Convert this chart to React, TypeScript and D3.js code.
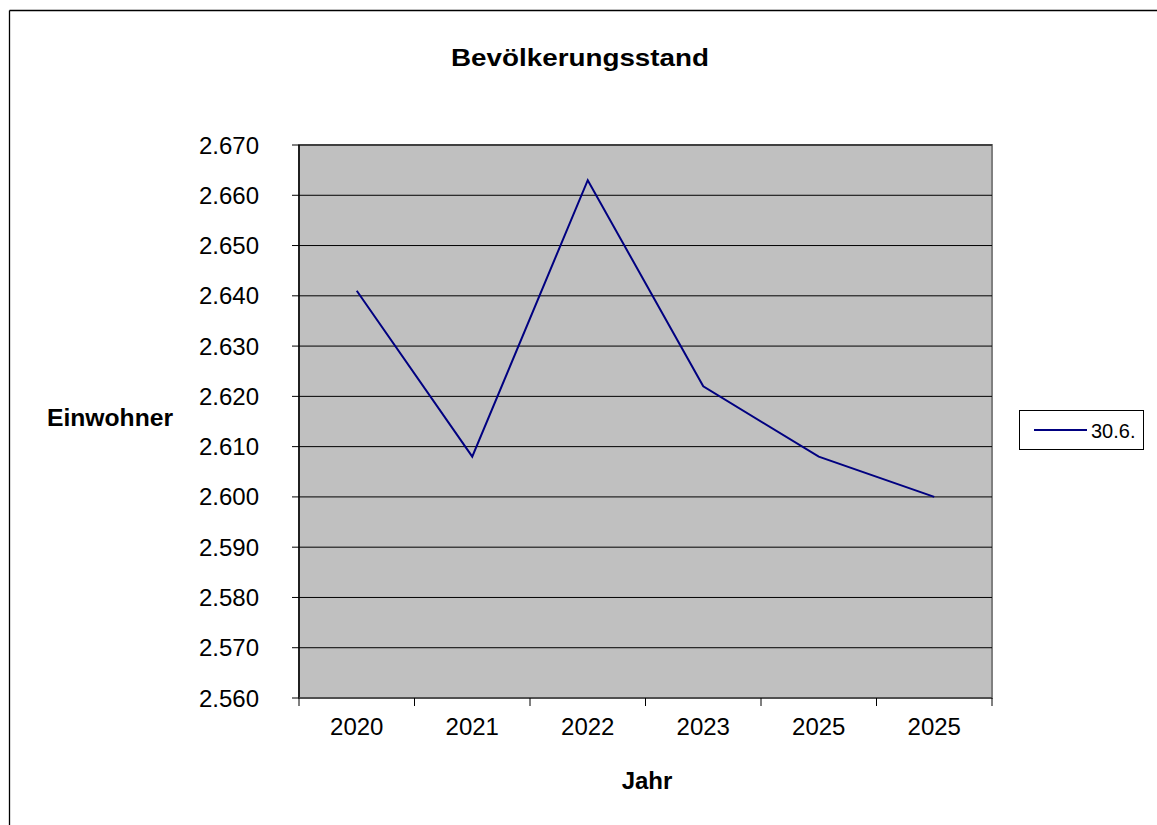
import React from "react";
import * as d3 from "d3";

const categories = ["2020", "2021", "2022", "2023", "2025", "2025"];
const values = [2641, 2608, 2663, 2622, 2608, 2600];
const yTicks = [2560, 2570, 2580, 2590, 2600, 2610, 2620, 2630, 2640, 2650, 2660, 2670];
const seriesName = "30.6.";
const title = "Bevölkerungsstand";
const yTitle = "Einwohner";
const xTitle = "Jahr";

export default function App() {
  const W = 1157, H = 825;
  const L = 299, R = 992, T = 145, B = 698;
  const x = d3.scaleBand<number>().domain(categories.map((_, i) => i)).range([L, R]).padding(0);
  const y = d3.scaleLinear().domain([2560, 2670]).range([B, T]);
  const fmt = (v: number) => d3.format(".3f")(v / 1000);
  const line = d3.line<number>().x((_, i) => (x(i) as number) + x.bandwidth() / 2).y((d) => y(d));
  const font = "Liberation Sans, Arial, sans-serif";
  const bounds = categories.map((_, i) => x(i) as number).concat([R]);
  return (
    <svg width={W} height={H} style={{ position: "absolute", left: 0, top: 0, fontFamily: font }}>
      <rect x={0} y={0} width={W} height={H} fill="#fff" />
      <line x1={9.5} y1={10.5} x2={W} y2={10.5} stroke="#000" strokeWidth={1.3} />
      <line x1={9.5} y1={10.5} x2={9.5} y2={H} stroke="#000" strokeWidth={1.3} />
      <text x={451} y={66} fontSize={24} fontWeight="bold" textLength={258} lengthAdjust="spacingAndGlyphs">{title}</text>
      <rect x={L} y={T} width={R - L} height={B - T} fill="#C0C0C0" stroke="#808080" strokeWidth={2} />
      {yTicks.slice(1).map((t) => (
        <line key={"g" + t} x1={L} x2={R} y1={y(t)} y2={y(t)} stroke="#000" strokeWidth={1} />
      ))}
      <line x1={L} x2={L} y1={T} y2={B} stroke="#000" strokeWidth={1.5} />
      <line x1={L} x2={R} y1={B} y2={B} stroke="#404040" strokeWidth={1.5} />
      {yTicks.map((t) => (
        <g key={"t" + t}>
          <line x1={L - 7} x2={L} y1={y(t)} y2={y(t)} stroke="#000" strokeWidth={1} />
          <text x={259} y={y(t) + 8.5} textAnchor="end" fontSize={24}>{fmt(t)}</text>
        </g>
      ))}
      {bounds.map((b, i) => (
        <line key={"xb" + i} x1={b} x2={b} y1={B} y2={B + 8} stroke="#000" strokeWidth={1} />
      ))}
      {categories.map((c, i) => (
        <text key={"c" + i} x={(x(i) as number) + x.bandwidth() / 2} y={735} textAnchor="middle" fontSize={24}>{c}</text>
      ))}
      <path d={line(values) || ""} fill="none" stroke="#000080" strokeWidth={2} />
      <text x={47} y={426} fontSize={24} fontWeight="bold" textLength={126} lengthAdjust="spacingAndGlyphs">{yTitle}</text>
      <text x={647} y={789} textAnchor="middle" fontSize={24} fontWeight="bold">{xTitle}</text>
      <rect x={1019.5} y={410.5} width={124} height={39} fill="#fff" stroke="#000" strokeWidth={1} />
      <line x1={1034} x2={1087} y1={430} y2={430} stroke="#000080" strokeWidth={2} />
      <text x={1091} y={438} fontSize={20}>{seriesName}</text>
    </svg>
  );
}
